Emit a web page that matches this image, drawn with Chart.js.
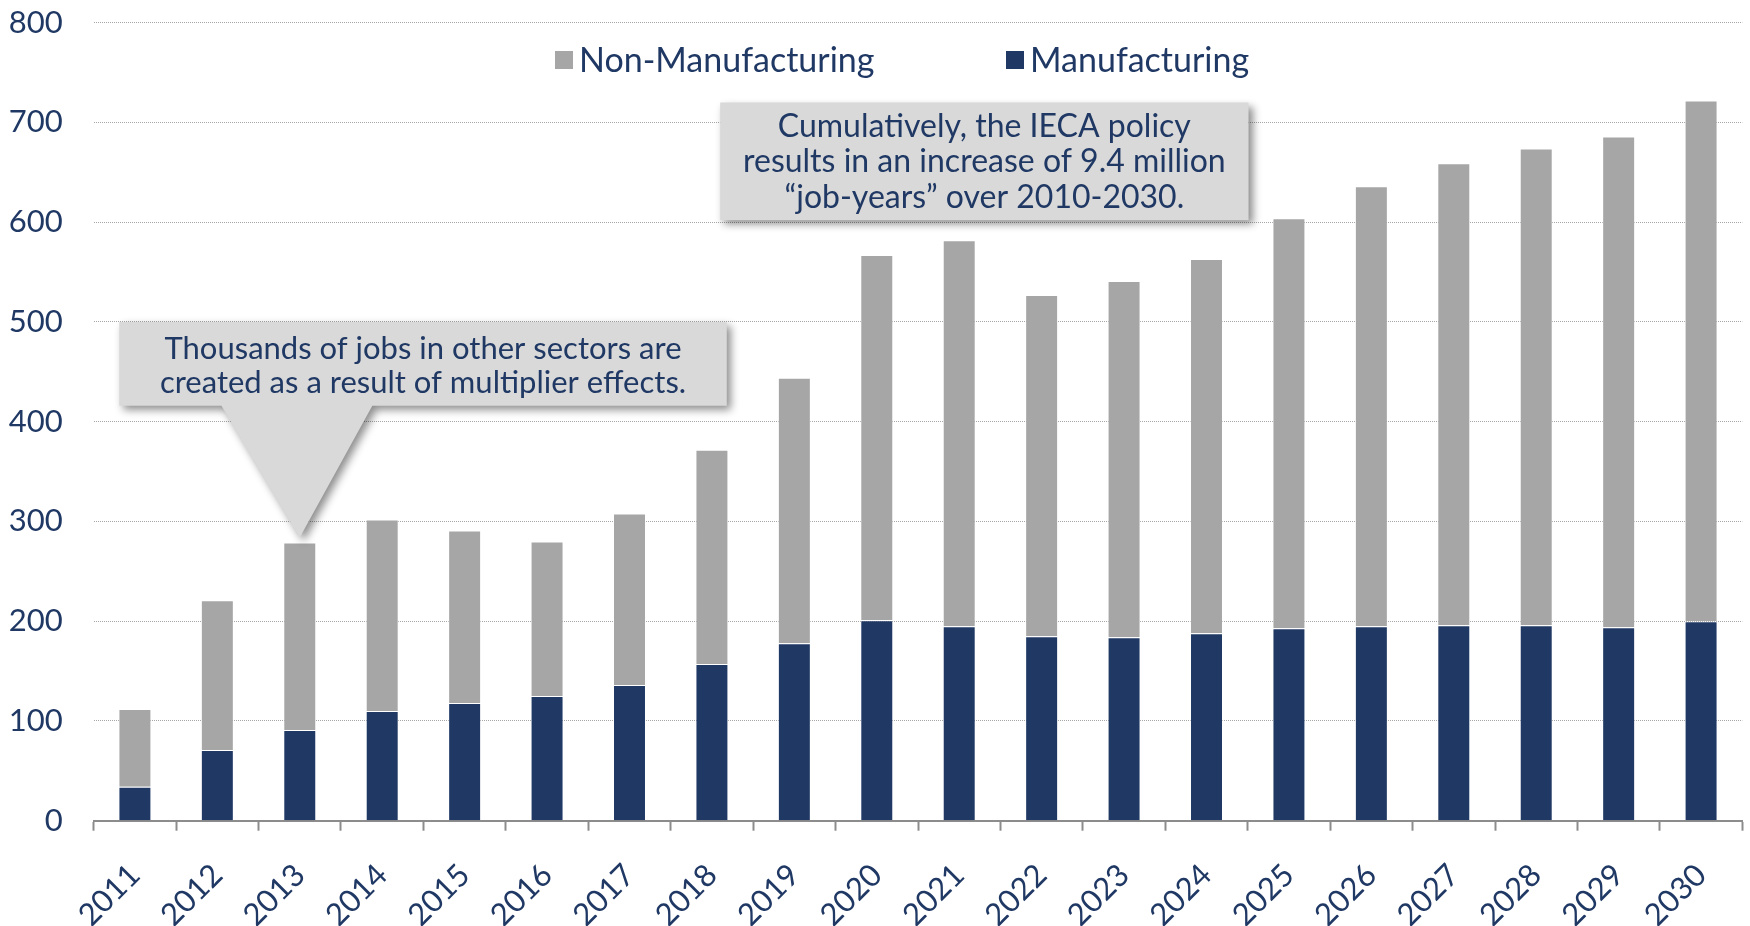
<!DOCTYPE html>
<html>
<head>
<meta charset="utf-8">
<script src="https://cdn.jsdelivr.net/npm/chart.js@4/dist/chart.umd.min.js"></script>
<style>
  html, body { margin: 0; padding: 0; background: #ffffff; }
  #wrap { width: 1750px; height: 926px; }
</style>
</head>
<body>
<div id="wrap"><canvas id="c" width="1750" height="926"></canvas></div>
<script>
// ---- Data (thousands of jobs) ----
const years = ['2011','2012','2013','2014','2015','2016','2017','2018','2019','2020',
               '2021','2022','2023','2024','2025','2026','2027','2028','2029','2030'];
const manufacturing = [34, 71, 91, 110, 118, 125, 136, 157, 178, 201,
                       195, 185, 184, 188, 193, 195, 196, 196, 194, 200];
const nonManufacturing = [78, 150, 188, 192, 173, 155, 172, 215, 266, 366,
                          387, 342, 357, 375, 411, 441, 463, 478, 492, 522];
const yTicks = [0, 100, 200, 300, 400, 500, 600, 700, 800];
const seriesNames = ['Manufacturing', 'Non-Manufacturing'];
const note1Lines = ['Cumulatively, the IECA policy',
                    'results in an increase of 9.4 million',
                    '\u201Cjob-years\u201D over 2010-2030.'];
const note2Lines = ['Thousands of jobs in other sectors are',
                    'created as a result of multiplier effects.'];

// ---- Styles ----
const NAVY = '#1F3864';
const GRAY = '#A6A6A6';
const TEXT = '#1F3864';
const FONT = 'Lato, "Open Sans", sans-serif';

function xAt(chart, f) {
  const xs = chart.scales.x;
  const p0 = xs.getPixelForValue(0), p1 = xs.getPixelForValue(1);
  return p0 + f * (p1 - p0);
}

const overlayPlugin = {
  id: 'overlay',
  afterDraw(chart) {
    const ctx = chart.ctx;
    const ys = chart.scales.y;
    // ---- legend (inside the plot) ----
    ctx.save();
    ctx.font = '34px ' + FONT;
    ctx.textBaseline = 'middle';
    ctx.textAlign = 'left';
    const legendY = 60;
    const items = [
      { label: seriesNames[1], color: GRAY, x: 555 },
      { label: seriesNames[0], color: NAVY, x: 1006 }
    ];
    items.forEach(it => {
      ctx.fillStyle = it.color;
      ctx.fillRect(it.x, legendY - 9, 18, 18);
      ctx.fillStyle = TEXT;
      ctx.fillText(it.label, it.x + 24, legendY + 1);
    });
    ctx.restore();

    // ---- callout 1 ----
    ctx.save();
    const b1 = { x0: xAt(chart, 7.10), x1: xAt(chart, 13.51), y0: ys.getPixelForValue(720), y1: ys.getPixelForValue(602) };
    ctx.shadowColor = 'rgba(0,0,0,0.45)';
    ctx.shadowBlur = 8;
    ctx.shadowOffsetX = 4;
    ctx.shadowOffsetY = 4;
    ctx.fillStyle = '#D9D9D9';
    ctx.fillRect(b1.x0, b1.y0, b1.x1 - b1.x0, b1.y1 - b1.y0);
    ctx.restore();
    ctx.save();
    ctx.font = '32px ' + FONT;
    ctx.fillStyle = TEXT;
    ctx.textAlign = 'center';
    ctx.textBaseline = 'alphabetic';
    const c1 = (b1.x0 + b1.x1) / 2;
    note1Lines.forEach((t, i) => ctx.fillText(t, c1, b1.y0 + 34.6 + i * 35.3));
    ctx.restore();

    // ---- callout 2 with pointer ----
    ctx.save();
    const b2 = { x0: xAt(chart, -0.19), x1: xAt(chart, 7.18), y0: ys.getPixelForValue(500), y1: ys.getPixelForValue(416) };
    const pL = xAt(chart, 1.05), pR = xAt(chart, 2.88);
    const tipX = xAt(chart, 2);
    const tipY = ys.getPixelForValue(manufacturing[2] + nonManufacturing[2] + 5);
    ctx.beginPath();
    ctx.moveTo(b2.x0, b2.y0);
    ctx.lineTo(b2.x1, b2.y0);
    ctx.lineTo(b2.x1, b2.y1);
    ctx.lineTo(pR, b2.y1);
    ctx.lineTo(tipX, tipY);
    ctx.lineTo(pL, b2.y1);
    ctx.lineTo(b2.x0, b2.y1);
    ctx.closePath();
    ctx.shadowColor = 'rgba(0,0,0,0.45)';
    ctx.shadowBlur = 8;
    ctx.shadowOffsetX = 4;
    ctx.shadowOffsetY = 4;
    ctx.fillStyle = '#D9D9D9';
    ctx.fill();
    ctx.restore();
    ctx.save();
    ctx.font = '31px ' + FONT;
    ctx.fillStyle = TEXT;
    ctx.textAlign = 'center';
    ctx.textBaseline = 'alphabetic';
    const c2 = (b2.x0 + b2.x1) / 2;
    note2Lines.forEach((t, i) => ctx.fillText(t, c2, b2.y0 + 36.6 + i * 34.4));
    ctx.restore();
  }
};

new Chart(document.getElementById('c'), {
  type: 'bar',
  data: {
    labels: years,
    datasets: [
      { label: seriesNames[0], data: manufacturing, backgroundColor: NAVY,
        borderColor: 'rgba(255,255,255,0.35)', borderWidth: 1, stack: 's' },
      { label: seriesNames[1], data: nonManufacturing, backgroundColor: GRAY,
        borderColor: 'rgba(255,255,255,0.45)', borderWidth: 1, stack: 's' }
    ]
  },
  options: {
    responsive: false,
    animation: false,
    layout: { padding: { left: 0, right: 7.7, top: 22.7, bottom: 0 } },
    datasets: { bar: { barPercentage: 0.4, categoryPercentage: 1.0 } },
    plugins: {
      legend: { display: false },
      tooltip: { enabled: false }
    },
    scales: {
      x: {
        stacked: true,
        offset: true,
        grid: { display: true, drawOnChartArea: false, drawTicks: true, offset: true,
                tickLength: 10, tickColor: '#8C8C8C', tickWidth: 2 },
        border: { display: true, color: '#8C8C8C', width: 2 },
        ticks: { color: TEXT, font: { family: FONT, size: 31 }, minRotation: 45, maxRotation: 45,
                 autoSkip: false, padding: 26 },
        afterFit(scale) { scale.height = 105.3; scale.paddingLeft = 0; scale.paddingRight = 0; }
      },
      y: {
        stacked: true,
        min: 0, max: 800,
        afterBuildTicks(scale) { scale.ticks = yTicks.map(v => ({ value: v })); },
        grid: { color: '#A6A6A6', lineWidth: 1, drawTicks: false },
        border: { display: false, dash: [1, 1] },
        ticks: { color: TEXT, font: { family: FONT, size: 31 }, padding: 31 },
        afterFit(scale) { scale.width = 93.7; scale.paddingTop = 0; scale.paddingBottom = 0; }
      }
    }
  },
  plugins: [overlayPlugin]
});
</script>
</body>
</html>
